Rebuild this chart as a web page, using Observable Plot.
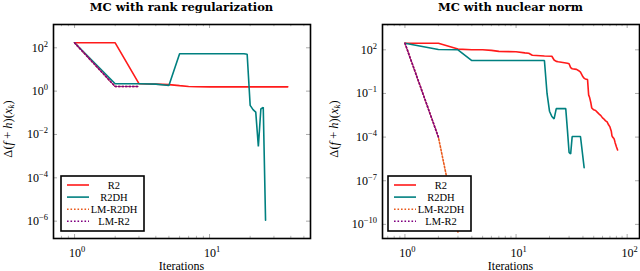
<!DOCTYPE html>
<html><head><meta charset="utf-8">
<script src="https://cdn.jsdelivr.net/npm/d3@7"></script>
<script src="https://cdn.jsdelivr.net/npm/@observablehq/plot@0.6"></script>
<style>
body{margin:0;background:#fff}
#wrap{position:relative;width:640px;height:271px;overflow:hidden;background:#fff}
#wrap > svg{position:absolute;top:0}
</style></head><body><div id="wrap"></div>
<script>
// ---------- data ----------
const seriesNames = ["R2", "R2DH", "LM-R2DH", "LM-R2"];
const panelTitles = ["MC with rank regularization", "MC with nuclear norm"];
const xLabel = "Iterations";

// Left panel: MC with rank regularization
const rankR2It = [1, 2, 3, 4, 5, 6, 7, 8, 10, 38];
const rankR2Val = [170, 170, 2.2, 2.1, 2.0, 1.8, 1.65, 1.6, 1.58, 1.58];
const rankR2DHIt = [1, 2, 3, 4, 5, 6, 18, 19, 20, 21, 22, 23, 24, 25, 26];
const rankR2DHVal = [170, 2.2, 2.2, 2.1, 1.83, 53, 53, 50, 0.22, 0.14, 0.107, 0.0028, 0.15, 0.18, 1.1e-6];
const rankLMR2DHIt = [1, 2, 3];
const rankLMR2DHVal = [170, 1.63, 1.63];
const rankLMR2It = [1, 2, 3];
const rankLMR2Val = [170, 1.63, 1.63];
const rankXTicks = [1, 10];
const rankYTicks = [1e2, 1e0, 1e-2, 1e-4, 1e-6];
const rankXMinor = [0.7, 0.8, 0.9, 2, 3, 4, 5, 6, 7, 8, 9, 20, 30, 40, 50];

// Right panel: MC with nuclear norm
const nucR2It = [1, 2, 3, 4, 5, 6, 7, 10, 12, 13, 14, 18, 21, 22, 23, 24, 29, 30, 31, 32, 35, 37, 38, 40, 41, 42, 44, 45, 46, 47, 48, 50, 52, 54, 56, 58, 60, 62, 64, 66, 68, 70, 71, 72, 73, 74, 76, 77, 78, 79, 80, 82];
const nucR2Val = [284, 284, 112, 102, 100, 92, 78, 73, 62, 58, 42, 38, 36, 20, 16, 15, 12, 11, 6, 5, 4.5, 3.5, 2.9, 1.4, 1.1, 1.0, 0.9, 0.08, 0.05, 0.025, 0.01, 0.0075, 0.0068, 0.005, 0.0038, 0.003, 0.0021, 0.0017, 0.0013, 0.0011, 7e-4, 5e-4, 3.5e-4, 2.5e-4, 1.2e-4, 1e-4, 8e-5, 6e-5, 4e-5, 3e-5, 2.2e-5, 1.3e-5];
const nucR2DHIt = [1, 2, 3, 4, 18, 19, 20, 21, 22, 23, 28, 29, 30, 31, 32, 38, 41];
const nucR2DHVal = [284, 105, 100, 18.3, 18.3, 0.1, 0.006, 0.0026, 0.0018, 0.009, 0.009, 3e-4, 9e-6, 7e-6, 1.1e-4, 1.1e-4, 8e-7];
const nucLMR2DHIt = [1, 2, 3];
const nucLMR2DHVal = [284, 1e-4, 3e-11];
const nucLMR2It = [1, 2];
const nucLMR2Val = [284, 1e-4];
const nucXTicks = [1, 10, 100];
const nucYTicks = [1e2, 1e-1, 1e-4, 1e-7, 1e-10];
const nucXMinor = [0.7, 0.8, 0.9, 2, 3, 4, 5, 6, 7, 8, 9, 20, 30, 40, 50, 60, 70, 80, 90];

// ---------- styles ----------
const seriesStyle = {
  "R2": {stroke: "#ff1a1a", dash: null},
  "R2DH": {stroke: "#008080", dash: null},
  "LM-R2DH": {stroke: "#ea5a1c", dash: "1.6,1.9"},
  "LM-R2": {stroke: "#800080", dash: "1.6,1.9"}
};
const SERIF = "'Liberation Serif', 'DejaVu Serif', serif";
const expOf = d => String(Math.round(Math.log10(d))).replace("-", "\u2212");
const rows = (its, vals) => its.map((it, i) => ({it, v: vals[i]}));

const panels = [
  {
    left: 0, width: 320, marginLeft: 53, marginRight: 10,
    xDomain: [10 ** -0.156, 10 ** 1.748], yDomain: [10 ** -6.8, 10 ** 3.075],
    series: [rows(rankR2It, rankR2Val), rows(rankR2DHIt, rankR2DHVal), rows(rankLMR2DHIt, rankLMR2DHVal), rows(rankLMR2It, rankLMR2Val)],
    xTicks: rankXTicks, yTicks: rankYTicks, xMinor: rankXMinor,
    title: panelTitles[0], legendX: 61, ylabX: 12
  },
  {
    left: 320, width: 320, marginLeft: 62, marginRight: 1,
    xDomain: [10 ** -0.202, 10 ** 2.111], yDomain: [10 ** -10.97, 10 ** 3.74],
    series: [rows(nucR2It, nucR2Val), rows(nucR2DHIt, nucR2DHVal), rows(nucLMR2DHIt, nucLMR2DHVal), rows(nucLMR2It, nucLMR2Val)],
    xTicks: nucXTicks, yTicks: nucYTicks, xMinor: nucXMinor,
    title: panelTitles[1], legendX: 388, ylabX: 338
  }
];

const wrap = document.getElementById("wrap");
const H = 271, MT = 24, MB = 33;
const FH = H - MT - MB;
const plots = [];

for (const p of panels) {
  const FW = p.width - p.marginLeft - p.marginRight;
  const tickStroke = "#888";
  const marks = [
    Plot.tickX(p.xMinor, {x: d => d, insetTop: FH - 2.2, stroke: tickStroke, strokeWidth: 0.6}),
    Plot.tickX(p.xMinor, {x: d => d, insetBottom: FH - 2.2, stroke: tickStroke, strokeWidth: 0.6}),
    Plot.tickX(p.xTicks, {x: d => d, insetTop: FH - 4, stroke: tickStroke, strokeWidth: 0.7}),
    Plot.tickX(p.xTicks, {x: d => d, insetBottom: FH - 4, stroke: tickStroke, strokeWidth: 0.7}),
    Plot.tickY(p.yTicks, {y: d => d, insetRight: FW - 4, stroke: tickStroke, strokeWidth: 0.7}),
    Plot.tickY(p.yTicks, {y: d => d, insetLeft: FW - 4, stroke: tickStroke, strokeWidth: 0.7}),
  ];
  seriesNames.forEach((name, i) => {
    const st = seriesStyle[name];
    marks.push(Plot.line(p.series[i], {x: "it", y: "v", stroke: st.stroke, strokeWidth: 1.6,
      strokeDasharray: st.dash, strokeLinejoin: "miter", clip: true}));
  });
  marks.push(Plot.frame({stroke: "black", strokeWidth: 1.6}));
  marks.push(Plot.axisX({ticks: p.xTicks, tickFormat: () => "", tickSize: 0, label: null}));
  marks.push(Plot.axisY({ticks: p.yTicks, tickFormat: () => "", tickSize: 0, label: null}));
  const svg = Plot.plot({
    width: p.width, height: H,
    marginLeft: p.marginLeft, marginRight: p.marginRight, marginTop: MT, marginBottom: MB,
    x: {type: "log", domain: p.xDomain},
    y: {type: "log", domain: p.yDomain},
    style: {fontFamily: SERIF, fontSize: "11px", color: "black", background: "white", overflow: "visible"},
    marks
  });
  svg.style.left = p.left + "px";
  wrap.appendChild(svg);
  plots.push(svg);
}

// overlay: tick labels, titles, axis labels, legends
const ov = d3.select(wrap).append("svg").attr("width", 640).attr("height", 271)
  .style("left", "0px").style("pointer-events", "none");
panels.forEach((p, pi) => {
  const sx = plots[pi].scale("x"), sy = plots[pi].scale("y");
  const pow = (g, v, x, y, anchor) => {
    const t = g.append("text").attr("x", x).attr("y", y).attr("text-anchor", anchor)
      .attr("font-family", SERIF).attr("font-size", 12);
    t.append("tspan").text("10");
    t.append("tspan").attr("dy", -5).attr("font-size", 8.5).text(expOf(v));
  };
  for (const v of p.xTicks) pow(ov, v, p.left + sx.apply(v) + 3, H - MB + 19, "middle");
  for (const v of p.yTicks) pow(ov, v, p.left + p.marginLeft - 5, sy.apply(v) + 4.5, "end");

  const cx = p.left + p.marginLeft + (p.width - p.marginLeft - p.marginRight) / 2;
  ov.append("text").attr("x", cx).attr("y", 11).attr("text-anchor", "middle")
    .attr("font-family", "'DejaVu Serif', serif").attr("font-weight", "bold").attr("font-size", 11.5)
    .text(p.title);
  ov.append("text").attr("x", cx).attr("y", 269.5).attr("text-anchor", "middle")
    .attr("font-family", SERIF).attr("font-size", 12).text(xLabel);
  const yl = ov.append("text").attr("transform", `translate(${p.ylabX},129) rotate(-90)`)
    .attr("text-anchor", "middle").attr("font-family", SERIF).attr("font-size", 12.5);
  yl.append("tspan").text("Δ(");
  yl.append("tspan").attr("font-style", "italic").text("f");
  yl.append("tspan").text(" + ");
  yl.append("tspan").attr("font-style", "italic").text("h");
  yl.append("tspan").text(")(");
  yl.append("tspan").attr("font-style", "italic").text("x");
  yl.append("tspan").attr("font-style", "italic").attr("font-size", 9).attr("dy", 2).text("k");
  yl.append("tspan").attr("dy", -2).text(")");

  const lg = ov.append("g").attr("transform", `translate(${p.legendX},176)`);
  lg.append("rect").attr("x", 0).attr("y", 0).attr("width", 83).attr("height", 55)
    .attr("fill", "white").attr("stroke", "black").attr("stroke-width", 1.6);
  seriesNames.forEach((name, i) => {
    const st = seriesStyle[name];
    const cy = 9 + i * 12.1;
    lg.append("line").attr("x1", 6).attr("x2", 28).attr("y1", cy).attr("y2", cy)
      .attr("stroke", st.stroke).attr("stroke-width", 1.6).attr("stroke-dasharray", st.dash);
    lg.append("text").attr("x", 53).attr("y", cy + 3.5).attr("text-anchor", "middle")
      .attr("font-family", SERIF).attr("font-size", 10.5).text(name);
  });
});
</script></body></html>
